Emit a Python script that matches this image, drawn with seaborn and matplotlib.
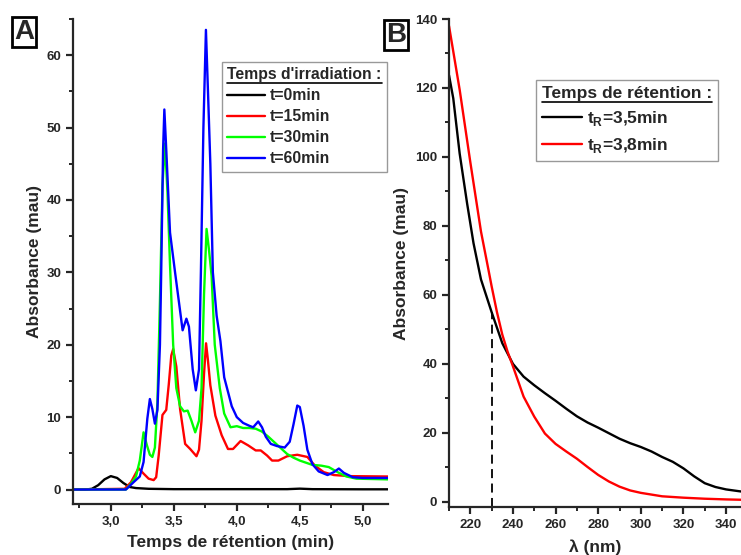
import matplotlib
matplotlib.use("Agg")
import matplotlib.pyplot as plt
import matplotlib.ticker as mticker
from matplotlib.lines import Line2D
import seaborn as sns

# -------------------------------
# Data
# -------------------------------
# Panel A : chromatograms at several irradiation times
t_0 = [2.70, 2.80, 2.85, 2.90, 2.95, 3.00, 3.05, 3.10, 3.15, 3.20, 3.30, 3.50,
       4.00, 4.40, 4.50, 4.60, 5.00, 5.20]
abs_0 = [0, 0, 0.1, 0.6, 1.4, 1.85, 1.6, 0.9, 0.35, 0.2, 0.1, 0.05,
         0.05, 0.05, 0.12, 0.05, 0.03, 0.03]

t_15 = [2.70, 3.11, 3.16, 3.22, 3.26, 3.30, 3.34, 3.36, 3.38, 3.41, 3.44, 3.46,
        3.48, 3.495, 3.52, 3.55, 3.59, 3.63, 3.68, 3.70, 3.72, 3.74, 3.756, 3.77,
        3.79, 3.83, 3.88, 3.93, 3.97, 4.03, 4.09, 4.15, 4.19, 4.24, 4.28, 4.33,
        4.40, 4.48, 4.56, 4.62, 4.69, 4.77, 4.90, 5.20]
abs_15 = [0, 0.1, 1.0, 2.95, 2.2, 1.5, 1.3, 1.7, 4.7, 10.3, 11.0, 14.5,
          18.5, 19.4, 17.0, 11.1, 6.3, 5.6, 4.6, 5.5, 9.5, 16.0, 20.2, 18.0,
          14.4, 10.2, 7.5, 5.6, 5.6, 6.7, 6.1, 5.4, 5.4, 4.7, 4.0, 4.0,
          4.6, 4.8, 4.5, 3.3, 2.4, 2.0, 1.85, 1.8]

t_30 = [2.70, 3.12, 3.16, 3.20, 3.23, 3.26, 3.285, 3.31, 3.33, 3.35, 3.37, 3.39,
        3.41, 3.43, 3.45, 3.47, 3.495, 3.52, 3.55, 3.58, 3.61, 3.64, 3.67, 3.70,
        3.72, 3.74, 3.76, 3.78, 3.80, 3.825, 3.865, 3.90, 3.95, 4.00, 4.05, 4.10,
        4.15, 4.20, 4.25, 4.30, 4.35, 4.40, 4.45, 4.50, 4.55, 4.60, 4.67, 4.73,
        4.80, 4.87, 4.95, 5.20]
abs_30 = [0, 0, 0.8, 1.8, 4.0, 7.9, 6.2, 4.8, 4.5, 5.8, 12, 26,
          42, 47.8, 41, 31, 20, 14, 11.5, 10.8, 10.9, 9.5, 7.9, 9.5,
          14, 27, 36, 33, 29.5, 20, 14, 10.5, 8.6, 8.75, 8.5, 8.5,
          8.4, 8.0, 7.3, 6.5, 5.7, 4.9, 4.4, 4.0, 3.7, 3.4, 3.3, 3.1,
          2.4, 1.8, 1.5, 1.4]

t_60 = [2.70, 3.12, 3.18, 3.23, 3.26, 3.29, 3.31, 3.33, 3.35, 3.37, 3.39, 3.40,
        3.415, 3.425, 3.44, 3.47, 3.51, 3.54, 3.57, 3.60, 3.62, 3.65, 3.675, 3.70,
        3.715, 3.735, 3.755, 3.775, 3.79, 3.81, 3.84, 3.87, 3.90, 3.93, 3.96, 4.00,
        4.05, 4.10, 4.13, 4.17, 4.20, 4.23, 4.27, 4.32, 4.38, 4.42, 4.45, 4.48,
        4.50, 4.53, 4.56, 4.60, 4.65, 4.72, 4.77, 4.81, 4.85, 4.92, 5.00, 5.20]
abs_60 = [0, 0, 1.0, 1.8, 3.8, 9.8, 12.5, 11.1, 9.1, 11, 20, 30,
          47, 52.5, 47, 35.5, 30, 26, 22, 23.6, 22.5, 16.6, 13.7, 16.6,
          30, 50, 63.5, 53, 45, 30, 24, 20.5, 15.5, 13.5, 11.5, 10,
          9.2, 8.8, 8.6, 9.4, 8.6, 7.3, 6.3, 6.0, 5.8, 6.6, 9.0, 11.6,
          11.4, 8.8, 5.5, 3.5, 2.5, 2.0, 2.4, 2.9, 2.3, 1.7, 1.6, 1.6]

labels_a = ["t=0min", "t=15min", "t=30min", "t=60min"]
colors_a = ["black", "#ff0000", "#00ff00", "#0000ff"]

# Panel B : UV spectra of the two peaks
wl_35 = [210, 212, 215, 218.5, 221.5, 225, 230, 235, 240, 245, 250, 255, 260,
         265, 270, 275, 280, 285, 290, 295, 300, 305, 310, 315, 320, 325, 330,
         335, 340, 347]
abs_35 = [123.7, 117, 101, 86.5, 75, 64.5, 55, 46, 40, 36.3, 33.8, 31.5, 29.3,
          27, 24.8, 23, 21.5, 19.9, 18.3, 17, 15.9, 14.6, 13.0, 11.6, 9.7, 7.4, 5.4,
          4.3, 3.6, 3.0]

wl_38 = [210, 215, 220, 225, 228.6, 230, 232.5, 235, 237.5, 240, 245, 250, 255,
         260, 265, 270, 275, 280, 285, 290, 295, 300, 310, 320, 330, 340, 347]
abs_38 = [138, 119.5, 98.5, 78.4, 67, 62.5, 55, 48.5, 43.5, 39.3, 30.5, 24.7, 19.8,
          16.8, 14.6, 12.5, 10.1, 7.8, 5.9, 4.4, 3.3, 2.6, 1.6, 1.2, 0.9, 0.7, 0.6]

labels_b = [r"t$_{\mathbf{R}}$=3,5min", r"t$_{\mathbf{R}}$=3,8min"]
colors_b = ["black", "#ff0000"]
wl_marker = 230

# -------------------------------
# Style
# -------------------------------
sns.set_style("ticks")
plt.rcParams["font.family"] = ["Liberation Sans", "DejaVu Sans"]
plt.rcParams["font.weight"] = "bold"
plt.rcParams["axes.labelweight"] = "bold"
plt.rcParams["mathtext.fontset"] = "custom"
plt.rcParams["mathtext.bf"] = "Liberation Sans:bold"
plt.rcParams["mathtext.rm"] = "Liberation Sans:bold"
plt.rcParams["axes.linewidth"] = 1.6
plt.rcParams["xtick.major.width"] = 1.6
plt.rcParams["ytick.major.width"] = 1.6
plt.rcParams["xtick.minor.width"] = 1.4
plt.rcParams["ytick.minor.width"] = 1.4
plt.rcParams["xtick.major.size"] = 5
plt.rcParams["ytick.major.size"] = 5
plt.rcParams["xtick.minor.size"] = 3
plt.rcParams["ytick.minor.size"] = 3

W, H = 741, 555
fig = plt.figure(figsize=(W / 100, H / 100), dpi=100)
ax_a = fig.add_axes([73 / W, 1 - 504 / H, (388 - 73) / W, (504 - 19) / H])
ax_b = fig.add_axes([449 / W, 1 - 507 / H, (741 - 449) / W, (507 - 19) / H])

# -------------------------------
# Panel A
# -------------------------------
series_a = [(t_0, abs_0), (t_15, abs_15), (t_30, abs_30), (t_60, abs_60)]
for (tx, ty), lab, col in zip(series_a, labels_a, colors_a):
    sns.lineplot(x=tx, y=ty, color=col, lw=1.7, label=lab, ax=ax_a)

ax_a.set_xlim(2.7, 5.2)
ax_a.set_ylim(-2, 65)
ax_a.xaxis.set_major_locator(mticker.MultipleLocator(0.5))
ax_a.xaxis.set_minor_locator(mticker.MultipleLocator(0.25))
ax_a.yaxis.set_major_locator(mticker.MultipleLocator(10))
ax_a.yaxis.set_minor_locator(mticker.MultipleLocator(5))
ax_a.xaxis.set_major_formatter(
    mticker.FuncFormatter(lambda v, p: f"{v:.1f}".replace(".", ",")))
ax_a.set_xlabel("Temps de rétention (min)", fontsize=12.5)
ax_a.set_ylabel("Absorbance (mau)", fontsize=12.5)
ax_a.xaxis.set_label_coords(0.5, -0.064)
ax_a.yaxis.set_label_coords(-0.098, 0.5)

leg_a = ax_a.legend(title="Temps d'irradiation :", loc="upper right",
                    bbox_to_anchor=(387 / W, 1 - 62 / H),
                    bbox_transform=fig.transFigure, borderaxespad=0,
                    fancybox=False, edgecolor="#999999", framealpha=1,
                    fontsize=11.3, title_fontproperties={"weight": "bold", "size": 11.3},
                    alignment="left", handlelength=2.4, handletextpad=0.3,
                    labelspacing=0.38, borderpad=0.35)
leg_a.get_frame().set_linewidth(1.0)

# -------------------------------
# Panel B
# -------------------------------
series_b = [(wl_35, abs_35), (wl_38, abs_38)]
for (wx, wy), lab, col in zip(series_b, labels_b, colors_b):
    sns.lineplot(x=wx, y=wy, color=col, lw=1.7, label=lab, ax=ax_b)

ax_b.set_xlim(210, 347)
ax_b.set_ylim(-1.5, 140)
ax_b.vlines(wl_marker, -1.5, abs_35[wl_35.index(wl_marker)], colors="black",
            linestyles=(0, (5, 3)), lw=1.3)
ax_b.xaxis.set_major_locator(mticker.MultipleLocator(20))
ax_b.xaxis.set_minor_locator(mticker.MultipleLocator(10))
ax_b.yaxis.set_major_locator(mticker.MultipleLocator(20))
ax_b.yaxis.set_minor_locator(mticker.MultipleLocator(10))
ax_b.set_xlabel("λ (nm)", fontsize=12.5)
ax_b.set_ylabel("Absorbance (mau)", fontsize=12.5)
ax_b.xaxis.set_label_coords(0.5, -0.066)
ax_b.yaxis.set_label_coords(-0.137, 0.5)

leg_b = ax_b.legend(title="Temps de rétention :", loc="upper right",
                    bbox_to_anchor=(718 / W, 1 - 80 / H),
                    bbox_transform=fig.transFigure, borderaxespad=0,
                    fancybox=False, edgecolor="#999999", framealpha=1,
                    fontsize=12.5, title_fontproperties={"weight": "bold", "size": 12.5},
                    alignment="left", handlelength=2.3, handletextpad=0.3,
                    labelspacing=0.45, borderpad=0.35)
leg_b.get_frame().set_linewidth(1.0)

for ax in (ax_a, ax_b):
    sns.despine(ax=ax)
    ax.tick_params(which="both", direction="out", labelsize=9.5)
    for lab in ax.get_xticklabels() + ax.get_yticklabels():
        lab.set_fontweight("bold")

# panel letters
for px, py, letter in [(24, 32, "A"), (396, 35, "B")]:
    fig.text(px / W, 1 - py / H, letter, ha="center", va="center",
             fontsize=20, fontweight="bold",
             bbox=dict(boxstyle="square,pad=0.08", fc="white", ec="black", lw=2))

# underline the legend titles
fig.canvas.draw()
renderer = fig.canvas.get_renderer()
for leg in (leg_a, leg_b):
    bb = leg.get_title().get_window_extent(renderer)
    y0 = bb.y0 - 1
    fig.add_artist(Line2D([bb.x0 / W, bb.x1 / W], [y0 / H, y0 / H],
                          transform=fig.transFigure, color="black", lw=1.2))

fig.savefig("out.png", dpi=100)
